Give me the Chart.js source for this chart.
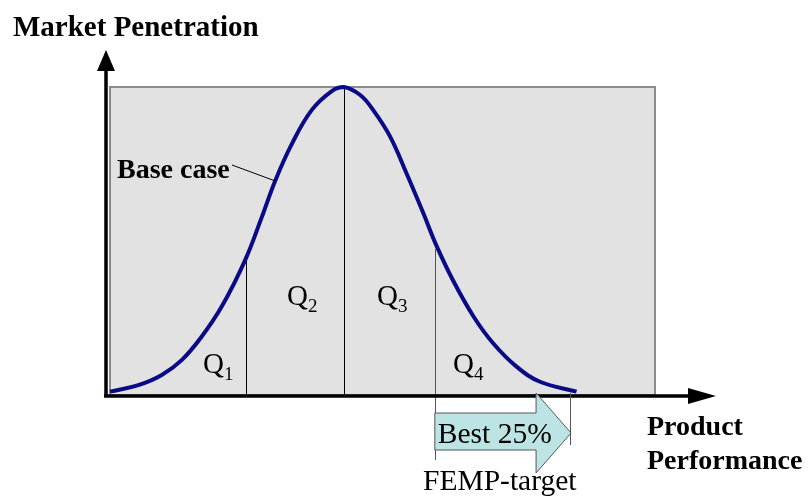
<!DOCTYPE html>
<html>
<head>
<meta charset="utf-8">
<script src="https://cdn.jsdelivr.net/npm/chart.js@4/dist/chart.umd.min.js"></script>
<style>
  html, body { margin: 0; padding: 0; background: #fff; }
  #wrap { width: 810px; height: 496px; }
</style>
</head>
<body>
<div id="wrap"><canvas id="grafico" width="810" height="496"></canvas></div>
<script>
// DADOS
const performance = [0, 5.2, 9.5, 13.2, 16.8, 20.5, 24.8, 27.8, 30.3, 33.3, 37.0, 40.7, 42.9,
  45.9, 48.3, 51.4, 54.4, 57.5, 59.9, 63.0, 66.7, 70.3, 74.6, 78.9, 85.6];
const penetration = [1.1, 3.2, 6.5, 11.4, 18.9, 28.7, 43.8, 57.5, 69.5, 81.3, 92.5, 98.7, 100,
  97.4, 92.5, 83.9, 72.0, 59.0, 48.5, 37.0, 25.5, 16.8, 9.2, 4.3, 1.1];
const quartileBounds = [25.0, 42.9, 59.6];
const quartileHeights = [44.8, 100, 47.4];
const bestEnd = 84.6;
const quartileNames = ["1", "2", "3", "4"];

const serif = "'Liberation Serif', 'Times New Roman', serif";

// DESENHO DOS ELEMENTOS EXTRA
const decoracao = {
  id: "decoracao",
  beforeDatasetsDraw(chart) {
    const { ctx, chartArea: a, scales: { x, y } } = chart;
    ctx.save();
    ctx.fillStyle = "#e2e2e2";
    ctx.fillRect(a.left, a.top, a.right - a.left, a.bottom - a.top);
    ctx.strokeStyle = "#8c8c8c";
    ctx.lineWidth = 2;
    ctx.strokeRect(a.left, a.top, a.right - a.left, a.bottom - a.top);

    // linhas dos quartis
    ctx.lineWidth = 1;
    quartileBounds.forEach((q, i) => {
      const px = Math.round(x.getPixelForValue(q)) + 0.5;
      ctx.strokeStyle = i === 2 ? "#555" : "#000";
      ctx.beginPath();
      ctx.moveTo(px, y.getPixelForValue(quartileHeights[i]));
      ctx.lineTo(px, i === 2 ? a.bottom + 65 : a.bottom);
      ctx.stroke();
    });
    ctx.restore();
  },
  afterDatasetsDraw(chart) {
    const { ctx, chartArea: a, scales: { x, y } } = chart;
    const base = a.bottom;
    ctx.save();

    // eixos com setas
    ctx.fillStyle = "#000";
    ctx.strokeStyle = "#000";
    ctx.lineWidth = 3.5;
    ctx.beginPath();
    ctx.moveTo(106, base + 1);
    ctx.lineTo(106, 66);
    ctx.moveTo(104, base + 1);
    ctx.lineTo(692, base + 1);
    ctx.stroke();
    ctx.beginPath();
    ctx.moveTo(106, 50); ctx.lineTo(115, 71); ctx.lineTo(97, 71); ctx.closePath();
    ctx.fill();
    ctx.beginPath();
    ctx.moveTo(716, base + 1); ctx.lineTo(688, base - 7); ctx.lineTo(688, base + 9); ctx.closePath();
    ctx.fill();

    // seta "Best 25%"
    const x0 = x.getPixelForValue(quartileBounds[2]);
    const x2 = x.getPixelForValue(bestEnd);
    const x1 = x2 - 35;
    ctx.beginPath();
    ctx.moveTo(x0, base + 18);
    ctx.lineTo(x1, base + 18);
    ctx.lineTo(x1, base - 2);
    ctx.lineTo(x2, base + 38);
    ctx.lineTo(x1, base + 78);
    ctx.lineTo(x1, base + 55);
    ctx.lineTo(x0, base + 55);
    ctx.closePath();
    ctx.fillStyle = "#bde4e4";
    ctx.fill();
    ctx.strokeStyle = "#555";
    ctx.lineWidth = 1;
    ctx.stroke();
    const xr = Math.round(x2) - 0.5;
    ctx.beginPath();
    ctx.moveTo(xr, base - 2);
    ctx.lineTo(xr, base + 50);
    ctx.stroke();

    // textos
    ctx.fillStyle = "#000";
    ctx.textBaseline = "alphabetic";
    ctx.textAlign = "left";
    ctx.font = "bold 29px " + serif;
    ctx.fillText("Market Penetration", 13, 36);
    ctx.font = "bold 28px " + serif;
    ctx.fillText("Product", 647, 435);
    ctx.fillText("Performance", 647, 469);
    ctx.fillText("Base case", 117, 178);

    ctx.font = "29.5px " + serif;
    ctx.fillText("Best 25%", x0 + 3, base + 48);
    ctx.fillText("FEMP-target", 423, 490);

    // linha de chamada
    ctx.lineWidth = 1;
    ctx.strokeStyle = "#000";
    ctx.beginPath();
    ctx.moveTo(232, 165);
    ctx.lineTo(x.getPixelForValue(30.3), y.getPixelForValue(69.5));
    ctx.stroke();

    // rótulos Q1..Q4
    const qPos = [[203, 373], [287, 305], [377, 305], [453, 373]];
    quartileNames.forEach((n, i) => {
      const [qx, qy] = qPos[i];
      ctx.font = "29px " + serif;
      ctx.fillText("Q", qx, qy);
      const w = ctx.measureText("Q").width;
      ctx.font = "19px " + serif;
      ctx.fillText(n, qx + w, qy + 7);
    });
    ctx.restore();
  }
};

// GRÁFICO
new Chart(document.querySelector("#grafico"), {
  type: "scatter",
  data: {
    datasets: [{
      label: "Base case",
      data: performance.map((v, i) => ({ x: v, y: penetration[i] })),
      showLine: true,
      borderColor: "#0a0a86",
      borderWidth: 4,
      pointRadius: 0,
      tension: 0.4,
      clip: false
    }]
  },
  options: {
    responsive: false,
    animation: false,
    layout: { padding: { left: 110, right: 155, top: 87, bottom: 101 } },
    plugins: { legend: { display: false }, tooltip: { enabled: false } },
    scales: {
      x: { type: "linear", min: 0, max: 100, display: false },
      y: { min: 0, max: 100, display: false }
    }
  },
  plugins: [decoracao]
});
</script>
</body>
</html>
